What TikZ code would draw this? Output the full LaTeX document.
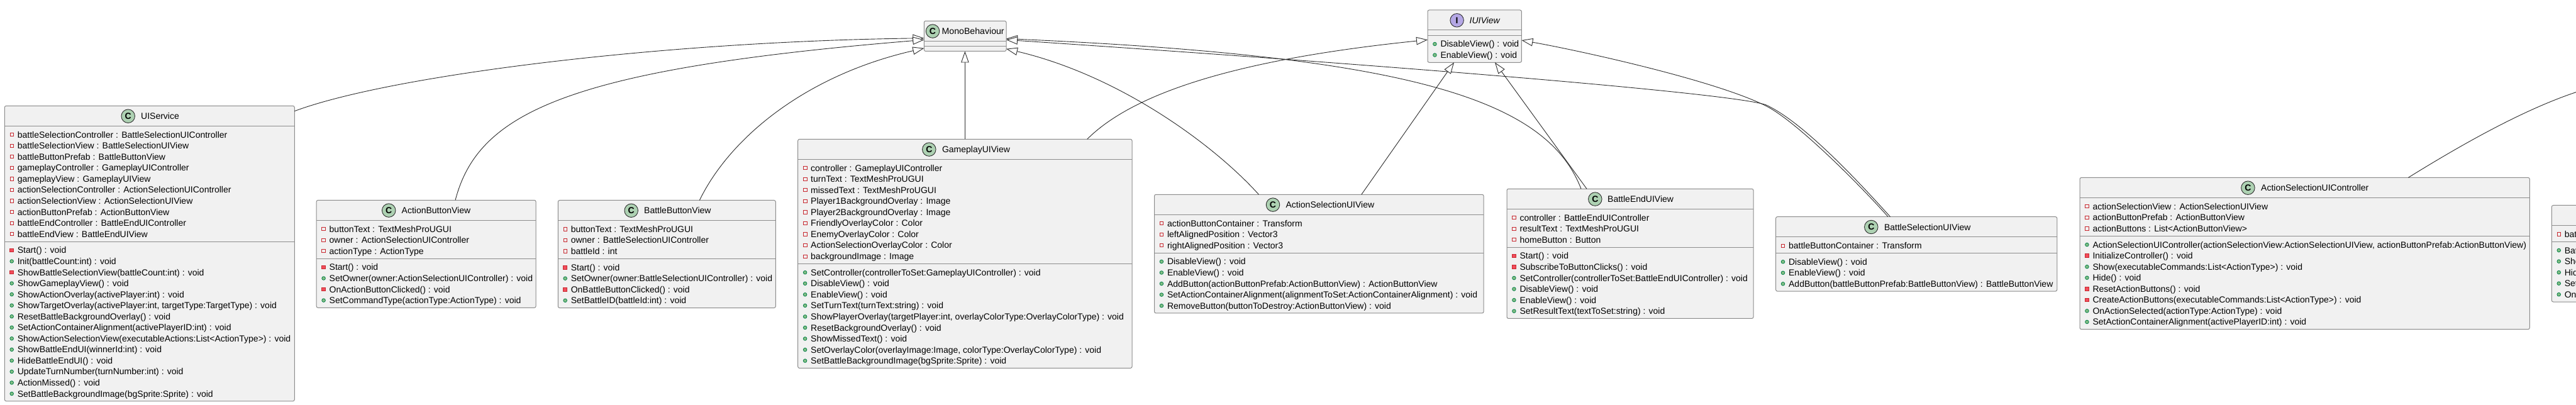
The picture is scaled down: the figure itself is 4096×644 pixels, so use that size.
\documentclass[tikz,border=0pt]{standalone}
\usepackage{fontspec}
\setmainfont{Liberation Sans}
\usepackage{graphicx}
\usetikzlibrary{arrows.meta,calc}
\definecolor{boxfill}{HTML}{F1F1F1}
\definecolor{boxline}{HTML}{8C8C8C}
\definecolor{conn}{HTML}{2E2E2E}
\definecolor{cfill}{HTML}{ADD1B2}
\definecolor{ifill}{HTML}{B4A7E5}
\definecolor{privline}{HTML}{C82930}
\definecolor{privfill}{HTML}{F24D5C}
\definecolor{publine}{HTML}{038048}
\definecolor{pubfill}{HTML}{84BE84}
\tikzset{
  classbox/.style={draw=boxline, fill=boxfill, line width=1pt, rounded corners=2.5pt,
    inner sep=0pt, outer sep=0pt, anchor=north west},
  sepline/.style={draw=boxline, line width=1pt},
  membertext/.style={anchor=base west, inner sep=0pt, font=\fontsize{14}{16}\selectfont},
  headtext/.style={anchor=base west, inner sep=0pt, font=\fontsize{14}{16}\selectfont},
  spot/.style={circle, draw=conn, line width=0.9pt, minimum size=21.5pt, inner sep=0pt,
    font=\bfseries\fontsize{14}{14}\selectfont},
  inh/.style={draw=conn, line width=0.9pt, -{Triangle[open, fill=white, length=18pt, width=12.5pt]}},
  assoc/.style={draw=conn, line width=0.9pt},
}
\newcounter{tn}
% #1 id, #2 xL, #3 xR, #4 top, #5 nf, #6 nm
\newcommand\umlclass[6]{%
  \pgfmathsetmacro\uHd{#4+32}%
  \pgfmathsetmacro\uSp{\uHd+#5*17.55+8.2}%
  \pgfmathsetmacro\uBt{\uSp+#6*17.55+8}%
  \pgfmathsetmacro\uW{#3-#2}%
  \pgfmathsetmacro\uH{\uBt-#4}%
  \node[classbox, minimum width=\uW pt, minimum height=\uH pt] (#1) at (#2,#4) {};
  \draw[sepline] (#2,\uHd) -- (#3,\uHd);
  \draw[sepline] (#2,\uSp) -- (#3,\uSp);
  \global\let\uX\uHd
  \xdef\uX{#2}\xdef\uF{\uHd}\xdef\uM{\uSp}\xdef\uT{#4}%
}
% #1 circle x, #2 name x, #3 name, #4 fill, #5 letter
\newcommand\uchead[5]{%
  \pgfmathsetmacro\uHy{\uT+16.3}%
  \stepcounter{tn}\node[spot, fill=#4] (s\arabic{tn}) at (#1,\uHy) {#5};
  \stepcounter{tn}\node[headtext] (h\arabic{tn}) at (#2,\uHy+5) {#3};
}
\newcommand\fpriv[2]{%
  \pgfmathsetmacro\uRy{\uF+13.8+(#1-1)*17.55}%
  \draw[draw=privline, line width=0.8pt] (\uX+8.6,\uRy-2.6) rectangle (\uX+14.2,\uRy+2.6);
  \stepcounter{tn}\node[membertext] (t\arabic{tn}) at (\uX+20.3,\uRy+5) {#2};
}
\newcommand\mpriv[2]{%
  \pgfmathsetmacro\uRy{\uM+13.8+(#1-1)*17.55}%
  \draw[draw=privline, fill=privfill, line width=0.8pt] (\uX+8.4,\uRy-2.8) rectangle (\uX+14.4,\uRy+2.8);
  \stepcounter{tn}\node[membertext] (t\arabic{tn}) at (\uX+20.3,\uRy+5) {#2};
}
\newcommand\mpub[2]{%
  \pgfmathsetmacro\uRy{\uM+13.8+(#1-1)*17.55}%
  \draw[draw=publine, fill=pubfill, line width=0.8pt] (\uX+11.4,\uRy) circle (2.8);
  \stepcounter{tn}\node[membertext] (t\arabic{tn}) at (\uX+20.3,\uRy+5) {#2};
}
\begin{document}
\begin{tikzpicture}[x=1pt,y=-1pt]
\useasboundingbox (0,0) rectangle (4096,644);
\fill[white] (0,0) rectangle (4096,644);
\begin{scope}
\clip (0,0) rectangle (4096,644);

% ---------------- UIService
\umlclass{uis}{7.3}{468.3}{168.4}{10}{14}
\uchead{203.7}{224}{UIService}{cfill}{C}
\fpriv{1}{battleSelectionController : BattleSelectionUIController}
\fpriv{2}{battleSelectionView : BattleSelectionUIView}
\fpriv{3}{battleButtonPrefab : BattleButtonView}
\fpriv{4}{gameplayController : GameplayUIController}
\fpriv{5}{gameplayView : GameplayUIView}
\fpriv{6}{actionSelectionController : ActionSelectionUIController}
\fpriv{7}{actionSelectionView : ActionSelectionUIView}
\fpriv{8}{actionButtonPrefab : ActionButtonView}
\fpriv{9}{battleEndController : BattleEndUIController}
\fpriv{10}{battleEndView : BattleEndUIView}
\mpriv{1}{Start() : void}
\mpub{2}{Init(battleCount:int) : void}
\mpriv{3}{ShowBattleSelectionView(battleCount:int) : void}
\mpub{4}{ShowGameplayView() : void}
\mpub{5}{ShowActionOverlay(activePlayer:int) : void}
\mpub{6}{ShowTargetOverlay(activePlayer:int, targetType:TargetType) : void}
\mpub{7}{ResetBattleBackgroundOverlay() : void}
\mpub{8}{SetActionContainerAlignment(activePlayerID:int) : void}
\mpub{9}{ShowActionSelectionView(executableActions:List<ActionType>) : void}
\mpub{10}{ShowBattleEndUI(winnerId:int) : void}
\mpub{11}{HideBattleEndUI() : void}
\mpub{12}{UpdateTurnNumber(turnNumber:int) : void}
\mpub{13}{ActionMissed() : void}
\mpub{14}{SetBattleBackgroundImage(bgSprite:Sprite) : void}

% ---------------- ActionButtonView
\umlclass{abv}{503.2}{852.1}{318.3}{3}{4}
\uchead{618.2}{638.5}{ActionButtonView}{cfill}{C}
\fpriv{1}{buttonText : TextMeshProUGUI}
\fpriv{2}{owner : ActionSelectionUIController}
\fpriv{3}{actionType : ActionType}
\mpriv{1}{Start() : void}
\mpub{2}{SetOwner(owner:ActionSelectionUIController) : void}
\mpriv{3}{OnActionButtonClicked() : void}
\mpub{4}{SetCommandType(actionType:ActionType) : void}

% ---------------- BattleButtonView
\umlclass{bbv}{887.3}{1233.3}{318.5}{3}{4}
\uchead{1003.7}{1024}{BattleButtonView}{cfill}{C}
\fpriv{1}{buttonText : TextMeshProUGUI}
\fpriv{2}{owner : BattleSelectionUIController}
\fpriv{3}{battleId : int}
\mpriv{1}{Start() : void}
\mpub{2}{SetOwner(owner:BattleSelectionUIController) : void}
\mpriv{3}{OnBattleButtonClicked() : void}
\mpub{4}{SetBattleID(battleId:int) : void}

% ---------------- MonoBehaviour
\umlclass{mono}{1469.3}{1600}{33.3}{0}{0}
\pgfmathsetmacro\uHy{\uT+16.3}
\stepcounter{tn}\node[spot, fill=cfill] (s\arabic{tn}) at (1483,\uHy) {C};
\stepcounter{tn}\node[headtext] (h\arabic{tn}) at (1497.5,\uHy+5) {\resizebox{99pt}{\height}{MonoBehaviour}};

% ---------------- GameplayUIView
\umlclass{gp}{1268.7}{1800}{221.3}{9}{9}
\uchead{1477.3}{1497.8}{GameplayUIView}{cfill}{C}
\fpriv{1}{controller : GameplayUIController}
\fpriv{2}{turnText : TextMeshProUGUI}
\fpriv{3}{missedText : TextMeshProUGUI}
\fpriv{4}{Player1BackgroundOverlay : Image}
\fpriv{5}{Player2BackgroundOverlay : Image}
\fpriv{6}{FriendlyOverlayColor : Color}
\fpriv{7}{EnemyOverlayColor : Color}
\fpriv{8}{ActionSelectionOverlayColor : Color}
\fpriv{9}{backgroundImage : Image}
\mpub{1}{SetController(controllerToSet:GameplayUIController) : void}
\mpub{2}{DisableView() : void}
\mpub{3}{EnableView() : void}
\mpub{4}{SetTurnText(turnText:string) : void}
\mpub{5}{ShowPlayerOverlay(targetPlayer:int, overlayColorType:OverlayColorType) : void}
\mpub{6}{ResetBackgroundOverlay() : void}
\mpub{7}{ShowMissedText() : void}
\mpub{8}{SetOverlayColor(overlayImage:Image, colorType:OverlayColorType) : void}
\mpub{9}{SetBattleBackgroundImage(bgSprite:Sprite) : void}

% ---------------- ActionSelectionUIView
\umlclass{asv}{1835.5}{2359.1}{309.3}{3}{5}
\uchead{2024}{2044.4}{ActionSelectionUIView}{cfill}{C}
\fpriv{1}{actionButtonContainer : Transform}
\fpriv{2}{leftAlignedPosition : Vector3}
\fpriv{3}{rightAlignedPosition : Vector3}
\mpub{1}{DisableView() : void}
\mpub{2}{EnableView() : void}
\mpub{3}{AddButton(actionButtonPrefab:ActionButtonView) : ActionButtonView}
\mpub{4}{SetActionContainerAlignment(alignmentToSet:ActionContainerAlignment) : void}
\mpub{5}{RemoveButton(buttonToDestroy:ActionButtonView) : void}

% ---------------- IUIView
\umlclass{iui}{2270}{2419.4}{16}{0}{2}
\uchead{2316.6}{2336.5}{\itshape IUIView}{ifill}{I}
\mpub{1}{DisableView() : void}
\mpub{2}{EnableView() : void}

% ---------------- BattleEndUIView
\umlclass{bev}{2396}{2788}{300.3}{3}{6}
\uchead{2536.3}{2556}{BattleEndUIView}{cfill}{C}
\fpriv{1}{controller : BattleEndUIController}
\fpriv{2}{resultText : TextMeshProUGUI}
\fpriv{3}{homeButton : Button}
\mpriv{1}{Start() : void}
\mpriv{2}{SubscribeToButtonClicks() : void}
\mpub{3}{SetController(controllerToSet:BattleEndUIController) : void}
\mpub{4}{DisableView() : void}
\mpub{5}{EnableView() : void}
\mpub{6}{SetResultText(textToSet:string) : void}

% ---------------- BattleSelectionUIView
\umlclass{bsv}{2823.6}{3270.8}{344.7}{1}{3}
\uchead{2975.3}{2995.8}{BattleSelectionUIView}{cfill}{C}
\fpriv{1}{battleButtonContainer : Transform}
\mpub{1}{DisableView() : void}
\mpub{2}{EnableView() : void}
\mpub{3}{AddButton(battleButtonPrefab:BattleButtonView) : BattleButtonView}

% ---------------- ActionSelectionUIController
\umlclass{asc}{3307}{4022.3}{282.4}{3}{8}
\uchead{3574.4}{3595}{ActionSelectionUIController}{cfill}{C}
\fpriv{1}{actionSelectionView : ActionSelectionUIView}
\fpriv{2}{actionButtonPrefab : ActionButtonView}
\fpriv{3}{actionButtons : List<ActionButtonView>}
\mpub{1}{ActionSelectionUIController(actionSelectionView:ActionSelectionUIView, actionButtonPrefab:ActionButtonView)}
\mpriv{2}{InitializeController() : void}
\mpub{3}{Show(executableCommands:List<ActionType>) : void}
\mpub{4}{Hide() : void}
\mpriv{5}{ResetActionButtons() : void}
\mpriv{6}{CreateActionButtons(executableCommands:List<ActionType>) : void}
\mpub{7}{OnActionSelected(actionType:ActionType) : void}
\mpub{8}{SetActionContainerAlignment(activePlayerID:int) : void}

% ---------------- partly visible class at the right edge
\umlclass{bsc}{4057.3}{4700}{326.5}{1}{5}
\fpriv{1}{battleSelectionView : BattleSelectionUIView}
\mpub{1}{BattleSelectionUIController()}
\mpub{2}{Show() : void}
\mpub{3}{Hide() : void}
\mpub{4}{SetBattleCount() : void}
\mpub{5}{OnBattleSelected() : void}

% ---------------- connectors
\coordinate (offright) at (4096,146.6);
\draw[inh] ($(uis.north east)+(0,8.3)$) .. controls (620,120) and (1050,66) .. ($(mono.north west)+(0,27.4)$);
\draw[inh] ($(abv.north west)+(220.8,0)$) .. controls (760,180) and (900,110) .. ($(mono.north west)+(0,30)$);
\draw[inh] ($(bbv.north west)+(225,0)$) .. controls (1160,220) and (1280,120) .. ($(mono.north west)+(0,43.4)$);
\draw[inh] (gp.north) -- (gp.north |- mono.south);
\draw[inh] ($(asv.north west)+(166,0)$) .. controls (1930,230) and (1780,120) .. ($(mono.north east)+(0,44.4)$);
\draw[inh] ($(bev.north west)+(118,0)$) .. controls (2460,160) and (2250,90) .. ($(mono.north east)+(0,28.2)$);
\draw[inh] ($(bsv.north west)+(182,0)$) .. controls (2965,300) and (2870,195) .. (2807.7,166.7)
   .. controls (2760,150) and (2300,110) .. ($(mono.north east)+(0,30)$);
\draw[inh] ($(gp.north west)+(460,0)$) .. controls (1800,150) and (1960,95) .. ($(iui.north west)+(0,47.3)$);
\draw[inh] ($(asv.north west)+(329.3,0)$) -- ($(iui.south west)+(42,0)$);
\draw[inh] ($(bev.north west)+(127,0)$) -- ($(iui.south west)+(107,0)$);
\draw[inh] ($(bsv.north west)+(178.5,0)$) .. controls (2962.5,299.7) and (2857.7,193.3) .. (2807.7,168.3)
   .. controls (2727.7,128.3) and (2519.2,82) .. ($(iui.north east)+(0,48)$);
\draw[assoc] ($(asc.north west)+(522.3,0)$) .. controls (3930,220) and (4020,172) .. (offright);
\end{scope}
\end{tikzpicture}
\end{document}
